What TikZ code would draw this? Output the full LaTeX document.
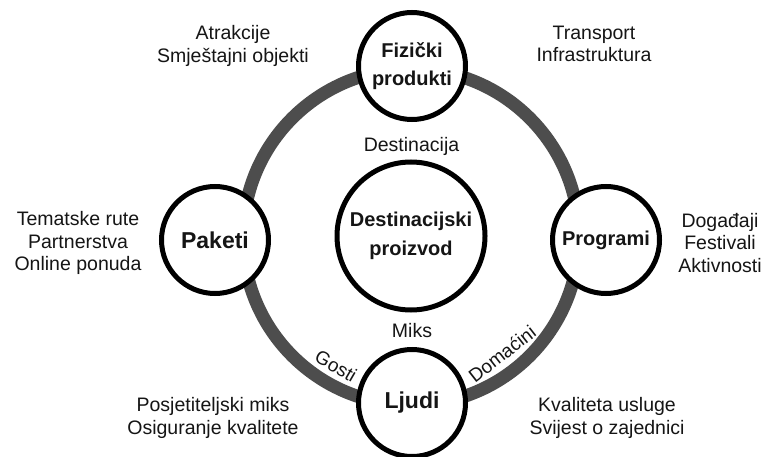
\documentclass[tikz,border=0pt]{standalone}
\usepackage{fontspec}
\setmainfont{Liberation Sans}
\definecolor{ringgray}{HTML}{4D4D4D}
\definecolor{ink}{HTML}{151515}
\begin{document}
\begin{tikzpicture}[x=1pt,y=-1pt,
  lbl/.style={font=\fontsize{19.5}{22.5}\selectfont, align=center, text=ink, inner sep=0pt},
  hub/.style={circle, draw=black, line width=5pt, fill=white, minimum size=107pt, inner sep=0pt, align=center, text=ink, font=\bfseries\fontsize{20}{28.5}\selectfont},
  bighub/.style={hub, font=\bfseries\fontsize{23}{28}\selectfont},
  corehub/.style={hub, minimum size=148pt},
  ringtxt/.style={font=\fontsize{19}{22}\selectfont, text=ink, inner sep=0pt}
]
\useasboundingbox (0,0) rectangle (770,457);
\fill[white] (0,0) rectangle (770,457);
\coordinate (c) at (411,237);
\draw[line width=13pt, color=ringgray] (c) circle (168pt);

\node[hub] (fiz) at (412,66) {Fizički\\produkti};
\node[bighub] (pak) at (215,240) {Paketi};
\node[hub] (prog) at (606,240) {Programi};
\node[bighub] (ljudi) at (412,403) {Ljudi};
\node[corehub] (core) at (411,236) {Destinacijski\\proizvod};

\node[lbl] (dest) at (411.5,146) {Destinacija};
\node[lbl] (miks) at (412,331) {Miks};

\node[lbl] (atr) at (233,46) {Atrakcije\\Smještajni objekti};
\node[lbl] (tra) at (594,44) {Transport\\Infrastruktura};
\node[lbl] (tem) at (78,243) {Tematske rute\\Partnerstva\\Online ponuda};
\node[lbl] (dog) at (720,243) {Događaji\\Festivali\\Aktivnosti};
\node[lbl] (pos) at (213,418) {Posjetiteljski miks\\Osiguranje kvalitete};
\node[lbl] (kva) at (607,418) {Kvaliteta usluge\\Svijest o zajednici};

\node[ringtxt, rotate=-30] (gosti) at (336,366) {Gosti};
\node[ringtxt, rotate=38] (doma) at (502,354) {Domaćini};
\end{tikzpicture}
\end{document}
